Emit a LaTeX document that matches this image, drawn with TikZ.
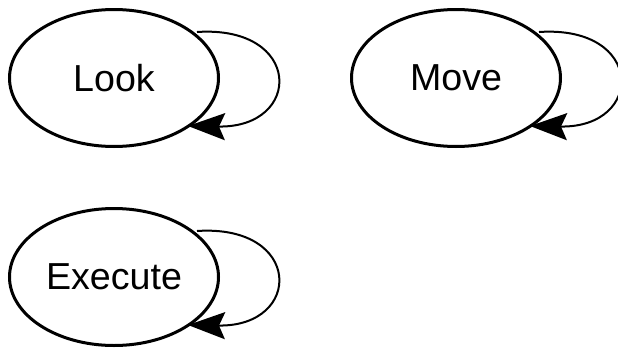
\documentclass[tikz,border=0pt]{standalone}
\usepackage{fontspec}
\setmainfont{Liberation Sans}
\usetikzlibrary{shapes.geometric,arrows.meta}
\begin{document}
\begin{tikzpicture}[x=1pt,y=-1pt,
  state/.style={ellipse,draw=black,line width=3pt,minimum width=209pt,minimum height=137pt,inner sep=0pt,font=\fontsize{37.6pt}{40pt}\selectfont},
  selfloop/.style={draw=black,line width=2pt,-{Stealth[length=37pt,width=27pt,inset=6pt]}}]
\useasboundingbox (0,0) rectangle (618,351);
\node[state] (look) at (114,78) {Look};
\node[state] (move) at (456,78) {Move};
\node[state] (exec) at (114,277) {Execute};
\foreach \n in {look,move,exec}{
  \draw[selfloop] ([shift={(83,-46)}]\n.center) .. controls ([shift={(189,-53)}]\n.center) and ([shift={(189,50)}]\n.center) .. ([shift={(74,48)}]\n.center);
}
\end{tikzpicture}
\end{document}
